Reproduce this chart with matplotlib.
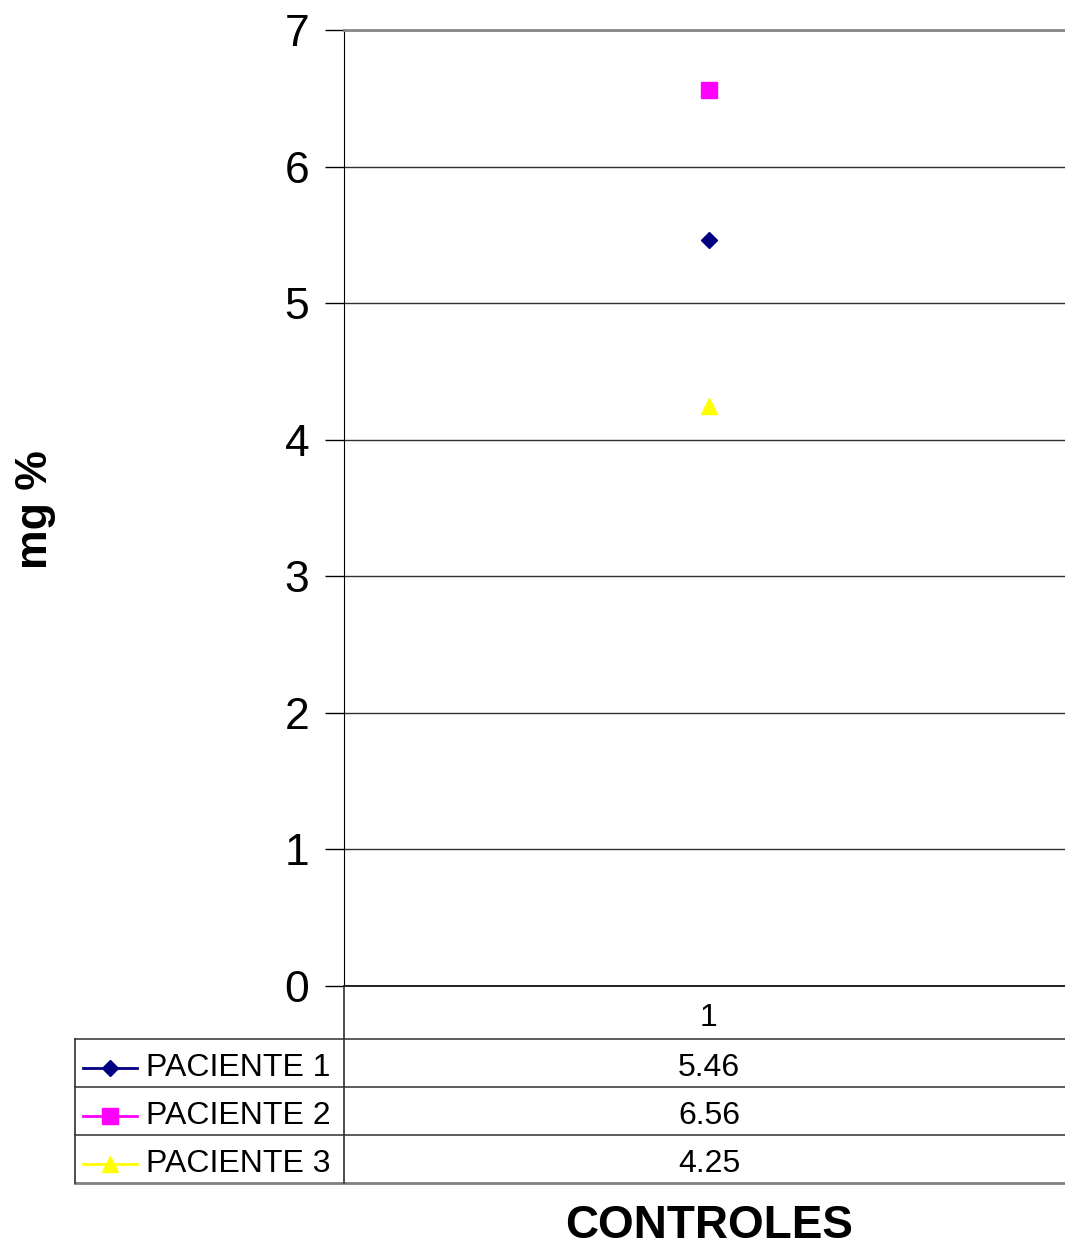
import matplotlib

matplotlib.use("Agg")
import matplotlib.pyplot as plt
from matplotlib.lines import Line2D

plt.rcParams["font.family"] = ["Liberation Sans", "DejaVu Sans"]

# data
categories = ["1"]
series_names = ["PACIENTE 1", "PACIENTE 2", "PACIENTE 3"]
series_values = [5.46, 6.56, 4.25]
series_colors = ["#000080", "#ff00ff", "#ffff00"]
series_markers = ["D", "s", "^"]
marker_sizes = [8, 11, 11]
y_ticks = [0, 1, 2, 3, 4, 5, 6, 7]

W, H = 1065, 1247
fig = plt.figure(figsize=(W / 100, H / 100), dpi=100, facecolor="white")


def fx(x):
    return x / W


def fy(y):
    return 1 - y / H


# plot area runs a little past the right edge of the image
ax_l, ax_r, ax_t, ax_b = 344, 1074, 30, 986
ax = fig.add_axes([fx(ax_l), fy(ax_b), fx(ax_r - ax_l), (ax_b - ax_t) / H])

x = range(1, len(categories) + 1)
for name, val, col, mk, ms in zip(series_names, series_values, series_colors, series_markers, marker_sizes):
    ax.plot(list(x), [val], linestyle="none", marker=mk, markersize=ms,
            color=col, markeredgecolor=col, label=name, zorder=3)

ax.set_xlim(0.5, len(categories) + 0.5)
ax.set_ylim(0, 7)
ax.set_yticks(y_ticks)
ax.set_yticklabels([str(t) for t in y_ticks], fontsize=32)
ax.tick_params(axis="y", direction="out", length=14, width=1, pad=11, color="black")
ax.set_xticks([])
ax.yaxis.grid(True, color="#303030", linewidth=1)
ax.set_axisbelow(True)
ax.spines["right"].set_visible(False)
ax.spines["top"].set_color("#888888")
ax.spines["top"].set_linewidth(2)
ax.spines["left"].set_color("black")
ax.spines["bottom"].set_color("black")
ax.spines["bottom"].set_linewidth(1.2)

# data table below the plot
row_tops = [1039, 1087, 1135]
row_h = 48
tab_l = 75
tab_r = 1065


def hline(y, x0, x1, color="#404040", lw=1.2):
    fig.add_artist(Line2D([fx(x0), fx(x1)], [fy(y), fy(y)], color=color, linewidth=lw))


def vline(x, y0, y1, color="#303030", lw=1.2):
    fig.add_artist(Line2D([fx(x), fx(x)], [fy(y0), fy(y1)], color=color, linewidth=lw))


for yt in row_tops:
    hline(yt, tab_l, tab_r)
hline(row_tops[-1] + row_h, tab_l, tab_r, color="#808080", lw=2)
vline(ax_l, ax_b, row_tops[-1] + row_h)
vline(tab_l, row_tops[0], row_tops[-1] + row_h)

cx = (ax_l + ax_r) / 2
fig.text(fx(cx), fy((ax_b + row_tops[0]) / 2 + 5), categories[0], fontsize=23,
         ha="center", va="center")

for yt, name, val, col, mk, ms in zip(row_tops, series_names, series_values,
                                      series_colors, series_markers, marker_sizes):
    yc = yt + row_h / 2 + 5
    fig.add_artist(Line2D([fx(83), fx(137)], [fy(yc), fy(yc)], color=col, linewidth=2))
    fig.add_artist(Line2D([fx(110)], [fy(yc)], linestyle="none", marker=mk,
                          markersize=ms, color=col, markeredgecolor=col))
    fig.text(fx(146), fy(yc), name, fontsize=23, ha="left", va="center")
    fig.text(fx(cx), fy(yc), f"{val:.2f}", fontsize=23, ha="center", va="center")

fig.text(fx(cx), fy(1226), "CONTROLES", fontsize=33, fontweight="bold",
         ha="center", va="center")
fig.text(fx(35), fy(510), "mg %", fontsize=32, fontweight="bold",
         ha="center", va="center", rotation=90)

fig.savefig("out.png", dpi=100, facecolor="white")
